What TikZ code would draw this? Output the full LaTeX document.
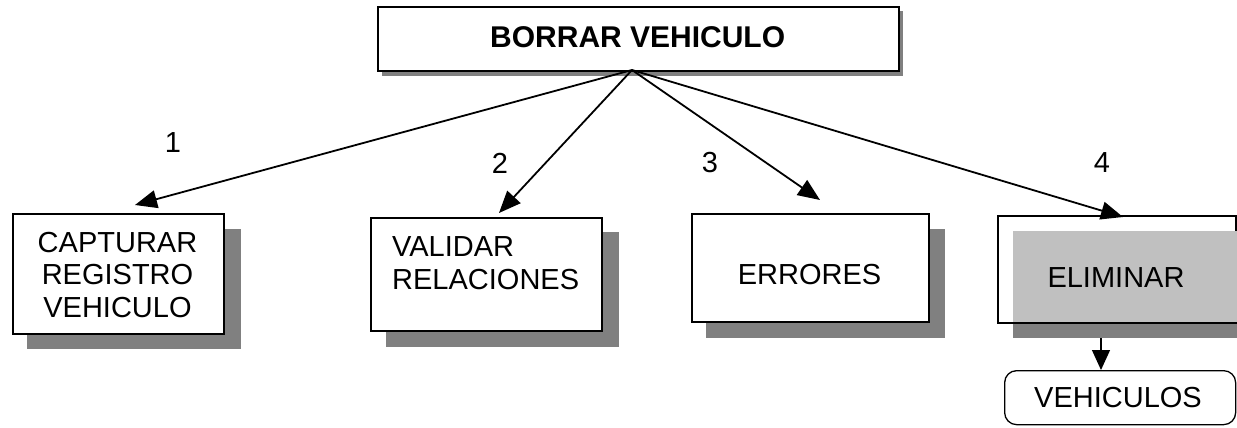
\documentclass[tikz,border=0pt]{standalone}
\usepackage{fontspec}
\setmainfont{Liberation Sans}
\usetikzlibrary{arrows.meta}
\definecolor{shadowgray}{HTML}{808080}
\definecolor{overgray}{HTML}{C0C0C0}
\begin{document}
\begin{tikzpicture}[x=1pt,y=-1pt,
  box/.style={draw=black, line width=1.6pt, fill=white, inner sep=0pt, anchor=north west},
  shade/.style={fill=shadowgray, draw=none},
  txt/.style={font=\fontsize{29}{32.5}\selectfont, inner sep=0pt},
  conn/.style={line width=1.8pt, -{Triangle[length=22pt,width=18pt]}},
  thinconn/.style={line width=1.3pt, -{Triangle[length=20pt,width=18pt]}},
]
\useasboundingbox (0,0) rectangle (1237,428);

% top box
\fill[shade] (382,11) rectangle (903,76);
\node[box, minimum width=521pt, minimum height=64pt] (top) at (377,6) {};
\node[txt, font=\bfseries\fontsize{30}{36}\selectfont, anchor=west] (toptxt) at (490,37) {BORRAR VEHICULO};

% box 1
\fill[shade] (27,229) rectangle (241,349);
\node[box, minimum width=211pt, minimum height=120pt] (b1) at (12,213) {};
\node[txt, align=center] (t1) at (117.5,275) {CAPTURAR\\REGISTRO\\VEHICULO};

% box 2
\fill[shade] (386,232) rectangle (619,347);
\node[box, minimum width=231pt, minimum height=113pt] (b2) at (370,217) {};
\node[txt, align=left, anchor=west] (t2) at (392,263) {VALIDAR\\RELACIONES};

% box 3
\fill[shade] (706,229) rectangle (945,338);
\node[box, minimum width=237pt, minimum height=108pt] (b3) at (691,213) {};
\node[txt] (t3) at (809.5,275) {ERRORES};

% box 4 (ELIMINAR)
\fill[shade] (1013,231) rectangle (1237,338);
\node[box, minimum width=238pt, minimum height=107pt] (b4) at (997,215) {};
\fill[overgray] (1013,231) rectangle (1237,322);
\node[txt] (t4) at (1116,278) {ELIMINAR};

% VEHICULOS
\node[draw=black, line width=1.3pt, rounded corners=12pt, fill=white, inner sep=0pt,
      anchor=north west, minimum width=231pt, minimum height=54pt] (v) at (1004,370) {};
\node[txt] (vt) at (1118,398) {VEHICULOS};

% connectors
\coordinate (src) at (632,70);
\coordinate (e1) at (135,205);
\coordinate (e2) at (499,213);
\coordinate (e3) at (820,200);
\coordinate (e4) at (1123,217);
\coordinate (s5) at (1101,338);
\draw[conn] (src) -- (e1);
\draw[conn] (src) -- (e2);
\draw[conn] (src) -- (e3);
\draw[conn] (src) -- (e4);
\draw[thinconn] (s5) -- (v.north -| s5);

% labels
\node[txt] (n1) at (173,143) {1};
\node[txt] (n2) at (500,163) {2};
\node[txt] (n3) at (710,163) {3};
\node[txt] (n4) at (1102,163) {4};
\end{tikzpicture}
\end{document}
